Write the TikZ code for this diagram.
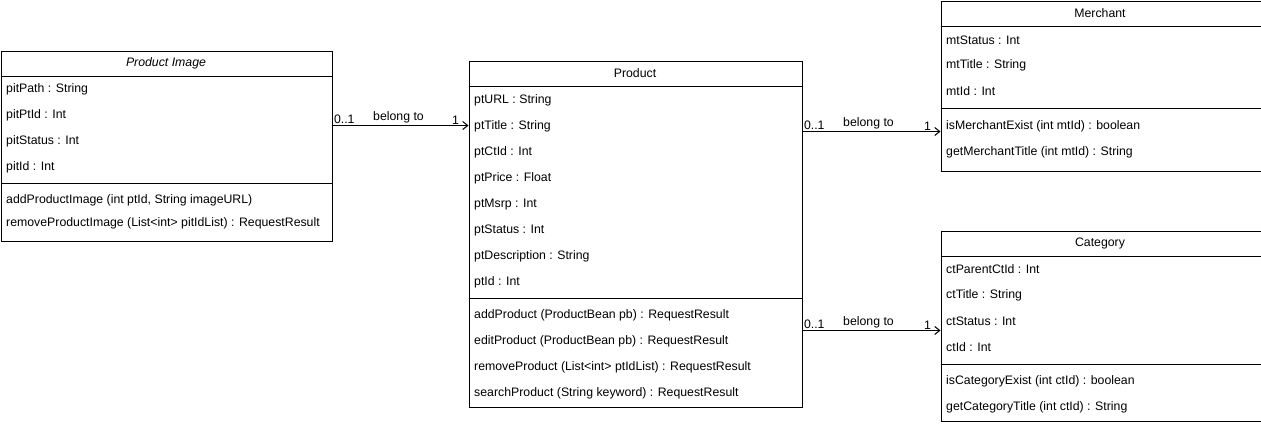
\documentclass[tikz,border=0pt]{standalone}
\usepackage{fontspec}
\setmainfont{Liberation Sans}
\usepackage{tikz}
\usetikzlibrary{positioning,calc,arrows.meta}

\tikzset{
    classbox/.style={draw, rectangle, anchor=north west, inner sep=0pt, line width=1pt},
    member/.style={anchor=west, inner sep=0pt},
    ctitle/.style={anchor=center, inner sep=0pt},
    assoc/.style={line width=1pt, -{Straight Barb[length=5pt,width=8pt,line width=1pt]}},
    mult/.style={inner sep=1pt}
}

\begin{document}
\begin{tikzpicture}[x=1pt,y=-1pt,font=\fontsize{12.3}{14}\selectfont]
    \useasboundingbox (0,0) rectangle (1261,424);

    % Product Image
    \node[classbox, minimum width=331pt, minimum height=190pt] (pimg) at (0.5,50.5) {};
    \draw[line width=1pt] ([yshift=-26pt]pimg.north west) -- ([yshift=-26pt]pimg.north east);
    \draw[line width=1pt] ([yshift=-133pt]pimg.north west) -- ([yshift=-133pt]pimg.north east);
    \node[ctitle] (pimgTitle) at (166,63.5) {\itshape Product Image};
    \foreach \n/\y/\txt in {pitPath/89.5/{pitPath : String}, pitPtId/115.5/{pitPtId : Int},
        pitStatus/141.5/{pitStatus : Int}, pitId/167.5/{pitId : Int},
        addPImg/200.5/{addProductImage (int ptId, String imageURL)},
        removePImg/223.5/{removeProductImage (List<int> pitIdList) : RequestResult}}
        \node[member] (\n) at (6,\y) {\txt};

    % Product
    \node[classbox, minimum width=333pt, minimum height=346pt] (prod) at (468.5,60.5) {};
    \draw[line width=1pt] ([yshift=-26pt]prod.north west) -- ([yshift=-26pt]prod.north east);
    \draw[line width=1pt] ([yshift=-238pt]prod.north west) -- ([yshift=-238pt]prod.north east);
    \node[ctitle] (prodTitle) at (635,73.5) {Product};
    \foreach \n/\y/\txt in {ptURL/100.5/{ptURL : String}, ptTitle/126.5/{ptTitle : String},
        ptCtId/152.5/{ptCtId : Int}, ptPrice/178.5/{ptPrice : Float},
        ptMsrp/204.5/{ptMsrp : Int}, ptStatus/230.5/{ptStatus : Int},
        ptDescription/256.5/{ptDescription : String}, ptId/282.5/{ptId : Int},
        addProd/315.5/{addProduct (ProductBean pb) : RequestResult},
        editProd/341.5/{editProduct (ProductBean pb) : RequestResult},
        removeProd/367.5/{removeProduct (List<int> ptIdList) : RequestResult},
        searchProd/393.5/{searchProduct (String keyword) : RequestResult}}
        \node[member] (\n) at (474,\y) {\txt};

    % Merchant
    \node[classbox, minimum width=320pt, minimum height=170pt] (merch) at (940.5,0.5) {};
    \draw[line width=1pt] ([yshift=-26pt]merch.north west) -- ([yshift=-26pt]merch.north east);
    \draw[line width=1pt] ([yshift=-108pt]merch.north west) -- ([yshift=-108pt]merch.north east);
    \node[ctitle] (merchTitle) at (1100,13.5) {Merchant};
    \foreach \n/\y/\txt in {mtStatus/40.5/{mtStatus : Int}, mtTitle/65.5/{mtTitle : String},
        mtId/91.5/{mtId : Int},
        isMerch/126.5/{isMerchantExist (int mtId) : boolean},
        getMerch/152.5/{getMerchantTitle (int mtId) : String}}
        \node[member] (\n) at (946,\y) {\txt};

    % Category
    \node[classbox, minimum width=320pt, minimum height=190pt] (cat) at (940.5,230.5) {};
    \draw[line width=1pt] ([yshift=-26pt]cat.north west) -- ([yshift=-26pt]cat.north east);
    \draw[line width=1pt] ([yshift=-134pt]cat.north west) -- ([yshift=-134pt]cat.north east);
    \node[ctitle] (catTitle) at (1100,243.5) {Category};
    \foreach \n/\y/\txt in {ctParentCtId/269.5/{ctParentCtId : Int}, ctTitle/295.5/{ctTitle : String},
        ctStatus/321.5/{ctStatus : Int}, ctId/347.5/{ctId : Int},
        isCat/381.5/{isCategoryExist (int ctId) : boolean},
        getCat/407.5/{getCategoryTitle (int ctId) : String}}
        \node[member] (\n) at (946,\y) {\txt};

    % associations
    \draw[assoc] ([yshift=-75pt]pimg.north east) -- ([yshift=-65pt]prod.north west)
        node[mult, pos=0, anchor=south west] (pimgFrom) {0..1}
        node[mult, midway, above, yshift=1pt, xshift=-2pt] (pimgLbl) {belong to}
        node[mult, pos=1, anchor=south east, xshift=-8pt] (pimgTo) {1};
    \draw[assoc] ([yshift=-71pt]prod.north east) -- ([yshift=-131pt]merch.north west)
        node[mult, pos=0, anchor=south west] (merchFrom) {0..1}
        node[mult, midway, above, yshift=1pt, xshift=-3pt] (merchLbl) {belong to}
        node[mult, pos=1, anchor=south east, xshift=-8pt] (merchTo) {1};
    \draw[assoc] ([yshift=-270pt]prod.north east) -- ([yshift=-100pt]cat.north west)
        node[mult, pos=0, anchor=south west] (catFrom) {0..1}
        node[mult, midway, above, yshift=1pt, xshift=-3pt] (catLbl) {belong to}
        node[mult, pos=1, anchor=south east, xshift=-8pt] (catTo) {1};
\end{tikzpicture}
\end{document}
